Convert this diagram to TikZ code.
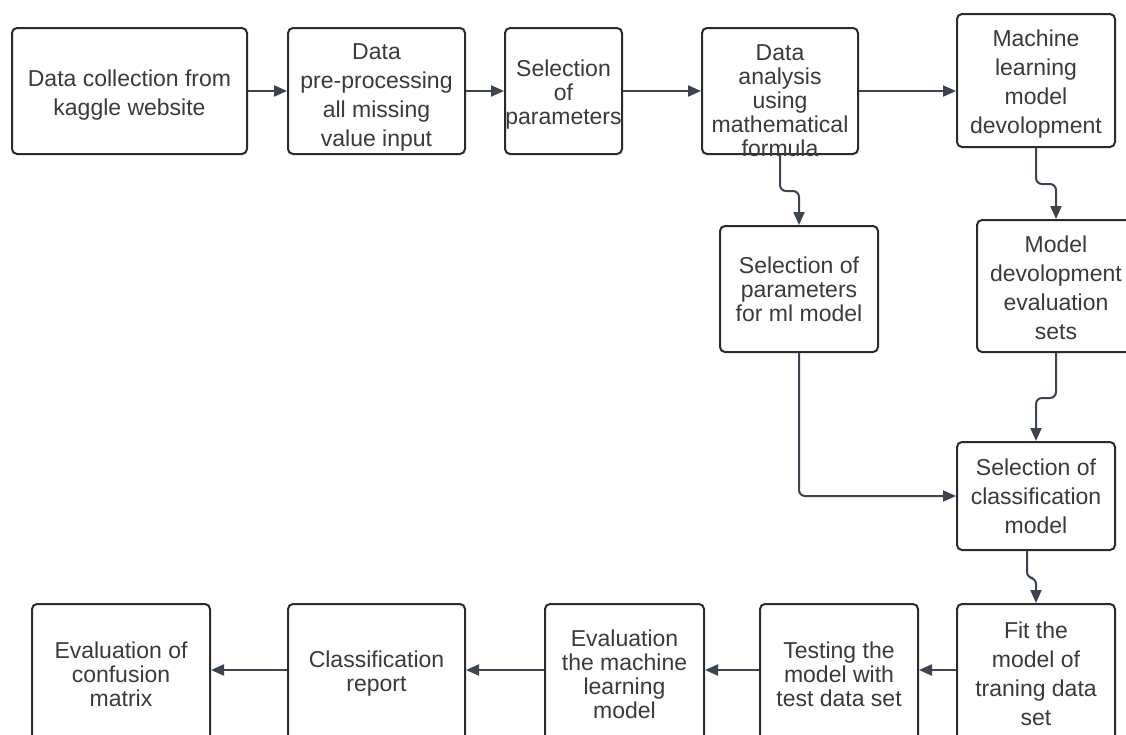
\documentclass[tikz,border=0pt]{standalone}
\usepackage{fontspec}
\setmainfont{Liberation Sans}
\usetikzlibrary{arrows.meta}
\definecolor{boxline}{HTML}{2B2B2B}
\definecolor{connc}{HTML}{3D4450}
\definecolor{txt}{HTML}{3A3A3A}
\tikzset{
  box/.style={draw=boxline, line width=2pt, rounded corners=5pt, inner sep=0pt,
    align=center, text=txt, font=\fontsize{23}{29}\selectfont},
  tight/.style={font=\fontsize{23}{24}\selectfont},
  wh/.style 2 args={minimum width=#1, minimum height=#2},
  lbl/.style={inner sep=0pt, align=center, text=txt, font=\fontsize{23}{29}\selectfont},
  flow/.style={draw=connc, line width=2pt, -{Triangle[length=13pt,width=11pt]}, rounded corners=6pt},
}
\begin{document}
\begin{tikzpicture}[x=1pt,y=-1pt]
\useasboundingbox (0,0) rectangle (1126,734);
\fill[white] (0,0) rectangle (1126,734);
\clip (0,0) rectangle (1126,734);

\node[box, wh={235pt}{126pt}] (b1) at (129.5,91) {};
\node[lbl] (t1) at (129.5,95) {Data collection from\\kaggle website};
\node[box, wh={177pt}{126pt}] (b2) at (376.5,91) {};
\node[lbl] (t2) at (376.5,97) {Data\\pre-processing\\all missing\\value input};
\node[box, wh={117pt}{126pt}] (b3) at (563.5,91) {};
\node[lbl, tight] (t3) at (563.5,95) {Selection\\of\\parameters};
\node[box, wh={156pt}{126pt}] (b4) at (780,91) {};
\node[lbl, tight] (t4) at (780,101) {Data\\analysis\\using\\mathematical\\formula};
\node[box, wh={158pt}{133pt}] (b5) at (1036,80.5) {};
\node[lbl] (t5) at (1036,84.5) {Machine\\learning\\model\\devolopment};
\node[box, tight, wh={158pt}{126pt}] (b6) at (799,289) {Selection of\\parameters\\for ml model};
\node[box, wh={158pt}{132pt}] (b7) at (1056,286) {};
\node[lbl] (t7) at (1056,288) {Model\\devolopment\\evaluation\\sets};
\node[box, wh={158pt}{108pt}] (b8) at (1036,496) {Selection of\\classification\\model};
\node[box, wh={158pt}{140pt}] (b9) at (1036,674) {Fit the\\model of\\traning data\\set};
\node[box, tight, wh={158pt}{140pt}] (b10) at (839,674) {Testing the\\model with\\test data set};
\node[box, tight, wh={159pt}{140pt}] (b11) at (624.5,674) {Evaluation\\the machine\\learning\\model};
\node[box, tight, wh={177pt}{140pt}] (b12) at (376.5,674) {Classification\\report};
\node[box, tight, wh={178pt}{140pt}] (b13) at (121,674) {Evaluation of\\confusion\\matrix};

\draw[flow] (b1) -- (b2);
\draw[flow] (b2) -- (b3);
\draw[flow] (b3) -- (b4);
\draw[flow] (b4.east) -- (b4.east -| b5.west);
\draw[flow] (b4.south) -- ++(0,36) -| (b6.north);
\draw[flow] (b5.south) -- ++(0,36) -| (b7.north);
\draw[flow] (b7.south) -- ++(0,45) -| (b8.north);
\draw[flow] ([xshift=-9pt]b8.south) -- ++(0,27) -| (b9.north);
\draw[flow] (b6.south) |- (b8.west);
\draw[flow] ([yshift=4pt]b9.west) -- ([yshift=4pt]b10.east);
\draw[flow] ([yshift=4pt]b10.west) -- ([yshift=4pt]b11.east);
\draw[flow] ([yshift=4pt]b11.west) -- ([yshift=4pt]b12.east);
\draw[flow] ([yshift=4pt]b12.west) -- ([yshift=4pt]b13.east);
\end{tikzpicture}
\end{document}
